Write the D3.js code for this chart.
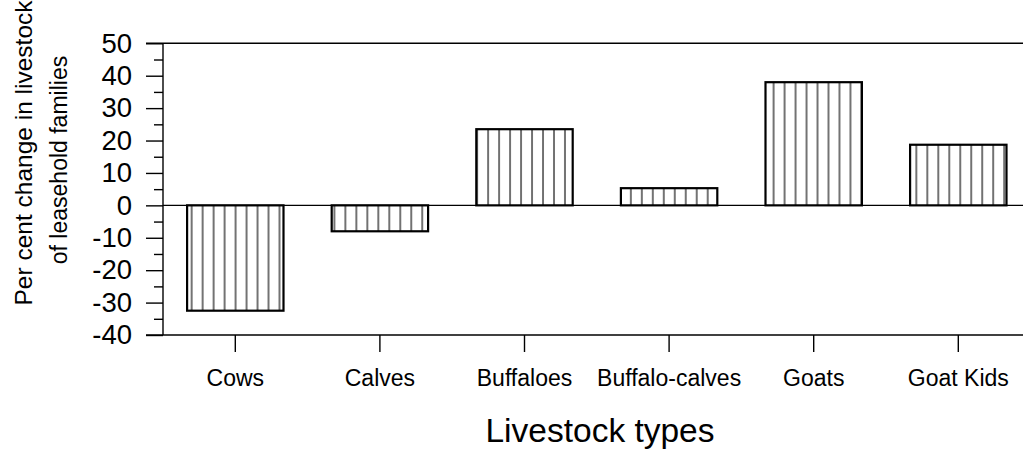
<!DOCTYPE html>
<html>
<head>
<meta charset="utf-8">
<script src="https://cdn.jsdelivr.net/npm/d3@7"></script>
<style>
  html, body { margin: 0; padding: 0; background: #fff; }
  svg { display: block; font-family: "Liberation Sans", Arial, sans-serif; }
</style>
</head>
<body>
<svg id="chart" width="1023" height="453"></svg>
<script>
const categories = ["Cows", "Calves", "Buffaloes", "Buffalo-calves", "Goats", "Goat Kids"];
const values = [-32.5, -8, 23.5, 5.3, 38, 18.7];
const yTicks = [-40, -30, -20, -10, 0, 10, 20, 30, 40, 50];
const yMinorTicks = [-35, -25, -15, -5, 5, 15, 25, 35, 45];
const yTitleLines = ["Per cent change in livestock", "of leasehold families"];
const xTitle = "Livestock types";

const svg = d3.select("#chart");
const W = 1023;
const plotLeft = 163, plotTop = 43.3, plotBottom = 335;
const FONT = "Liberation Sans, Arial, sans-serif";

const x = d3.scaleBand().domain(categories).range([plotLeft, 1030.6])
  .paddingInner(1/3).paddingOuter(1/6);
const y = d3.scaleLinear().domain([-40, 50]).range([plotBottom, plotTop]);

svg.append("rect").attr("width", W).attr("height", 453).attr("fill", "#fff");

const defs = svg.append("defs");
const pat = defs.append("pattern").attr("id", "vhatch")
  .attr("patternUnits", "userSpaceOnUse").attr("x", 0).attr("y", 0)
  .attr("width", 10.98).attr("height", 10);
pat.append("rect").attr("width", 10.98).attr("height", 10).attr("fill", "#fff");
pat.append("line").attr("x1", 5).attr("x2", 5).attr("y1", 0).attr("y2", 10)
  .attr("stroke", "#000").attr("stroke-width", 1.1);

// top frame line
svg.append("line").attr("x1", 146).attr("x2", W).attr("y1", y(50)).attr("y2", y(50))
  .attr("stroke", "#000").attr("stroke-width", 1.4);

// zero line
svg.append("line").attr("x1", plotLeft).attr("x2", W).attr("y1", y(0)).attr("y2", y(0))
  .attr("stroke", "#000").attr("stroke-width", 1.4);

// bars
svg.append("g").selectAll("rect").data(categories).join("rect")
  .attr("x", d => x(d))
  .attr("width", x.bandwidth())
  .attr("y", (d, i) => y(Math.max(0, values[i])))
  .attr("height", (d, i) => Math.abs(y(values[i]) - y(0)))
  .attr("fill", "url(#vhatch)")
  .attr("stroke", "#000").attr("stroke-width", 2.2);

// y axis major ticks
const yAxis = d3.axisLeft(y).tickValues(yTicks).tickSize(17).tickPadding(14)
  .tickFormat(d => String(d));
const gy = svg.append("g").attr("transform", `translate(${plotLeft},0)`).call(yAxis);
gy.attr("font-size", 27.5).attr("font-family", FONT);
gy.select(".domain").remove();
gy.selectAll(".tick line").attr("stroke", "#000").attr("stroke-width", 1.4);
gy.selectAll(".tick text").attr("fill", "#000");

// minor ticks
const gym = svg.append("g").attr("transform", `translate(${plotLeft},0)`)
  .call(d3.axisLeft(y).tickValues(yMinorTicks).tickSize(9).tickFormat(""));
gym.select(".domain").remove();
gym.selectAll(".tick line").attr("stroke", "#000").attr("stroke-width", 1.4);

// y axis line
svg.append("line").attr("x1", plotLeft).attr("x2", plotLeft).attr("y1", y(50)).attr("y2", y(-40))
  .attr("stroke", "#000").attr("stroke-width", 1.4);

// bottom line
svg.append("line").attr("x1", 146).attr("x2", W).attr("y1", plotBottom).attr("y2", plotBottom)
  .attr("stroke", "#000").attr("stroke-width", 1.4);

// x axis ticks & labels
const gx = svg.append("g").attr("transform", `translate(0,${plotBottom})`)
  .call(d3.axisBottom(x).tickSize(17).tickPadding(18));
gx.attr("font-size", 23).attr("font-family", FONT);
gx.select(".domain").remove();
gx.selectAll(".tick line").attr("stroke", "#000").attr("stroke-width", 1.4);
gx.selectAll(".tick text").attr("fill", "#000");

// x title
svg.append("text").attr("x", 600).attr("y", 442).attr("text-anchor", "middle")
  .attr("font-size", 33.5).attr("font-family", FONT).attr("fill", "#000").text(xTitle);

// y title
const ytSizes = [24.5, 23];
const ytCenters = [153, 160];
const ytBaselines = [32, 67];
svg.append("g").selectAll("text").data(yTitleLines).join("text")
  .attr("transform", (d, i) => `translate(${ytBaselines[i]},${ytCenters[i]}) rotate(-90)`)
  .attr("text-anchor", "middle")
  .attr("font-size", (d, i) => ytSizes[i])
  .attr("font-family", FONT).attr("fill", "#000")
  .text(d => d);
</script>
</body>
</html>
